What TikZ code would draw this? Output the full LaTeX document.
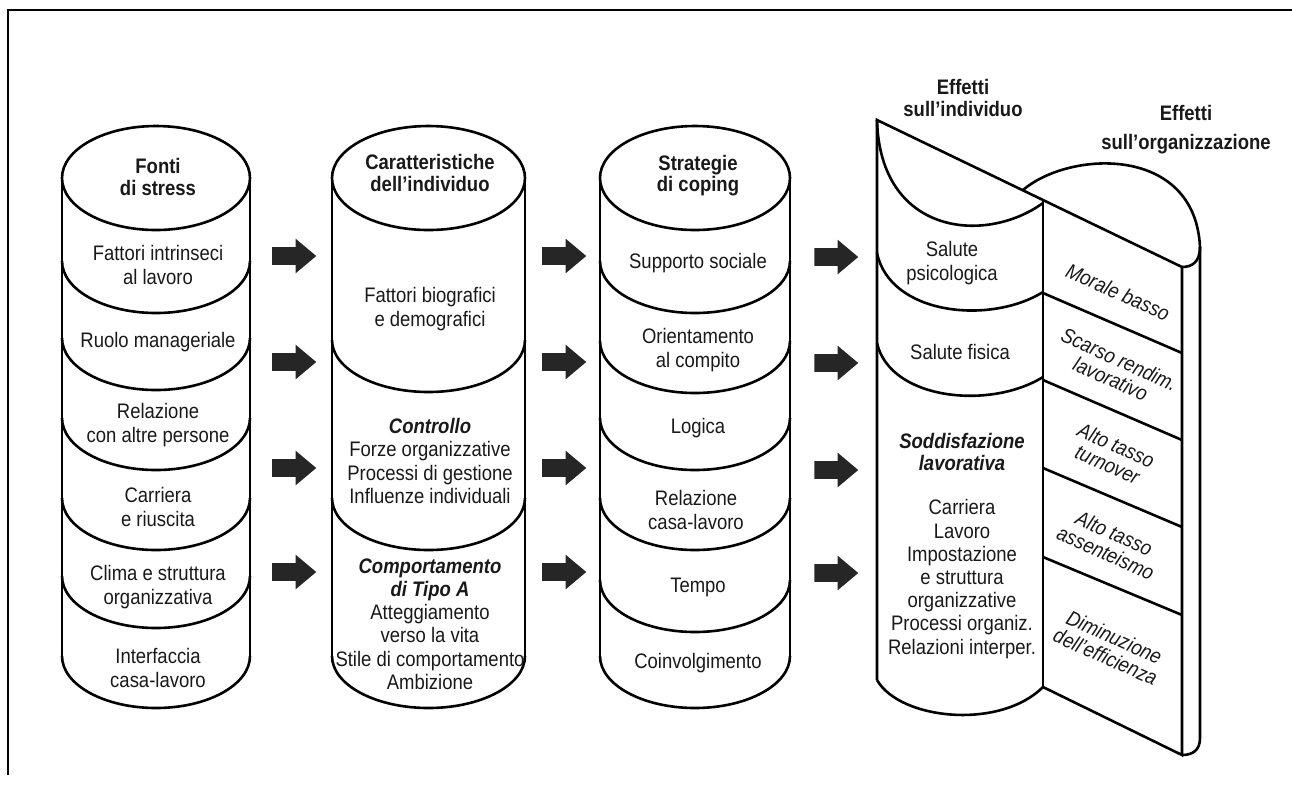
\documentclass[tikz,border=0pt]{standalone}
\usepackage{fontspec}
\setmainfont{Liberation Sans}[FakeStretch=0.88]
\usetikzlibrary{shapes.arrows}

\begin{document}
\begin{tikzpicture}[x=0.5pt, y=-0.5pt, line width=1.3pt,
    txt/.style={align=center, inner sep=0pt, text=black!90,
      font=\fontsize{10.5}{11.6}\selectfont},
    hd/.style={txt, font=\fontsize{10.5}{10.6}\selectfont\bfseries},
    eff/.style={txt, rotate=-24, font=\fontsize{10.5}{10.6}\selectfont\itshape},
    blk/.style={single arrow, fill=black!85, draw=none, inner xsep=0pt,
      inner ysep=3.75pt, minimum height=22pt,
      single arrow head extend=4.25pt, single arrow tip angle=80}]
    \useasboundingbox (0,0) rectangle (1292,784);
    % cornice
    \draw (8,775) -- (8,10) -- (1292,10);

    % fonti di stress
    \draw (156,178) ellipse [x radius=94, y radius=52];
    \draw (62,178) -- (62,656);
    \draw (250,178) -- (250,656);
    \draw (62,261) arc [start angle=180, end angle=0, x radius=94, y radius=52];
    \draw (62,338) arc [start angle=180, end angle=0, x radius=94, y radius=52];
    \draw (62,418) arc [start angle=180, end angle=0, x radius=94, y radius=52];
    \draw (62,498) arc [start angle=180, end angle=0, x radius=94, y radius=52];
    \draw (62,576) arc [start angle=180, end angle=0, x radius=94, y radius=52];
    \draw (62,656) arc [start angle=180, end angle=0, x radius=94, y radius=52];
    \node[hd] (fonti) at (158,177) {Fonti\\di stress};
    \node[txt] (f1) at (158,265) {Fattori intrinseci\\al lavoro};
    \node[txt] (f2) at (158,342) {Ruolo manageriale};
    \node[txt] (f3) at (158,425) {Relazione\\con altre persone};
    \node[txt] (f4) at (158,507) {Carriera\\e riuscita};
    \node[txt] (f5) at (158,587) {Clima e struttura\\organizzativa};
    \node[txt] (f6) at (158,668) {Interfaccia\\casa-lavoro};

    % caratteristiche dell'individuo
    \draw (428.5,178) ellipse [x radius=96.5, y radius=52];
    \draw (332,178) -- (332,656);
    \draw (525,178) -- (525,656);
    \draw (332,340) arc [start angle=180, end angle=0, x radius=96.5, y radius=52];
    \draw (332,498) arc [start angle=180, end angle=0, x radius=96.5, y radius=52];
    \draw (332,656) arc [start angle=180, end angle=0, x radius=96.5, y radius=52];
    \node[hd] (carat) at (430,173) {Caratteristiche\\dell'individuo};
    \node[txt] (c1) at (430,309) {Fattori biografici\\e demografici};
    \node[txt] (c2) at (430,461) {\textbf{\textit{Controllo}}\\Forze organizzative\\Processi di gestione\\Influenze individuali};
    \node[txt] (c3) at (430,624) {\textbf{\textit{Comportamento}}\\\textbf{\textit{di Tipo A}}\\Atteggiamento\\verso la vita\\Stile di comportamento\\Ambizione};

    % strategie di coping
    \draw (695,178) ellipse [x radius=95, y radius=52];
    \draw (600,178) -- (600,656);
    \draw (790,178) -- (790,656);
    \draw (600,261) arc [start angle=180, end angle=0, x radius=95, y radius=52];
    \draw (600,341) arc [start angle=180, end angle=0, x radius=95, y radius=52];
    \draw (600,418) arc [start angle=180, end angle=0, x radius=95, y radius=52];
    \draw (600,498) arc [start angle=180, end angle=0, x radius=95, y radius=52];
    \draw (600,580) arc [start angle=180, end angle=0, x radius=95, y radius=52];
    \draw (600,656) arc [start angle=180, end angle=0, x radius=95, y radius=52];
    \node[hd] (strat) at (698,176) {Strategie\\di coping};
    \node[txt] (s1) at (698,263) {Supporto sociale};
    \node[txt] (s2) at (698,350) {Orientamento\\al compito};
    \node[txt] (s3) at (698,428) {Logica};
    \node[txt] (s4) at (696,510) {Relazione\\casa-lavoro};
    \node[txt] (s5) at (698,587) {Tempo};
    \node[txt] (s6) at (698,663) {Coinvolgimento};

    % effetti sull'individuo
    \draw (877,680) -- (877,120) -- (1182,267);
    \draw (877,120) .. controls (880,235) and (985,245) .. (1043,203);
    \draw (877,253) .. controls (890,315) and (990,325) .. (1043,292);
    \draw (877,343) .. controls (890,400) and (990,410) .. (1043,377);
    \draw (877,680) .. controls (900,720) and (1000,730) .. (1043,687);
    \draw (1043,201) -- (1043,687);
    \node[hd] (effind) at (963,98) {Effetti\\sull'individuo};
    \node[txt] (e1) at (952,263) {Salute\\psicologica};
    \node[txt] (e2) at (960,352) {Salute fisica};
    \node[txt, font=\fontsize{10.5}{11}\selectfont\bfseries\itshape] (e3) at (962,452) {Soddisfazione\\lavorativa};
    \node[txt] (e4) at (962,579) {Carriera\\Lavoro\\Impostazione\\e struttura\\organizzative\\Processi organiz.\\Relazioni interper.};

    % effetti sull'organizzazione
    \draw (1023,190) .. controls (1070,150) and (1195,145) .. (1200,247)
      .. controls (1200,262) and (1192,267) .. (1182,267);
    \draw (1200,247) -- (1200,738) .. controls (1200,750) and (1193,755) .. (1182,755);
    \draw (1182,267) -- (1182,755) -- (1043,687);
    \draw (1043,293) -- (1182,353);
    \draw (1043,380) -- (1182,440);
    \draw (1043,468) -- (1182,527);
    \draw (1043,557) -- (1182,615);
    \node[hd, align=center] (efforg) at (1186,130) {Effetti\\[4pt]sull'organizzazione};
    \node[eff] (o1) at (1118,292) {Morale basso};
    \node[eff] (o2) at (1115,369) {Scarso rendim.\\lavorativo};
    \node[eff] (o3) at (1112,455) {Alto tasso\\turnover};
    \node[eff] (o4) at (1110,543) {Alto tasso\\assenteismo};
    \node[eff] (o5) at (1110,647) {Diminuzione\\dell'efficienza};

    % frecce
    \node[blk] (a11) at (289,256) {};
    \node[blk] (a12) at (289,362) {};
    \node[blk] (a13) at (289,468) {};
    \node[blk] (a14) at (289,572) {};
    \node[blk] (a21) at (559,256) {};
    \node[blk] (a22) at (559,362) {};
    \node[blk] (a23) at (559,468) {};
    \node[blk] (a24) at (559,572) {};
    \node[blk] (a31) at (831,257) {};
    \node[blk] (a32) at (831,363) {};
    \node[blk] (a33) at (831,470) {};
    \node[blk] (a34) at (831,573) {};
\end{tikzpicture}
\end{document}
